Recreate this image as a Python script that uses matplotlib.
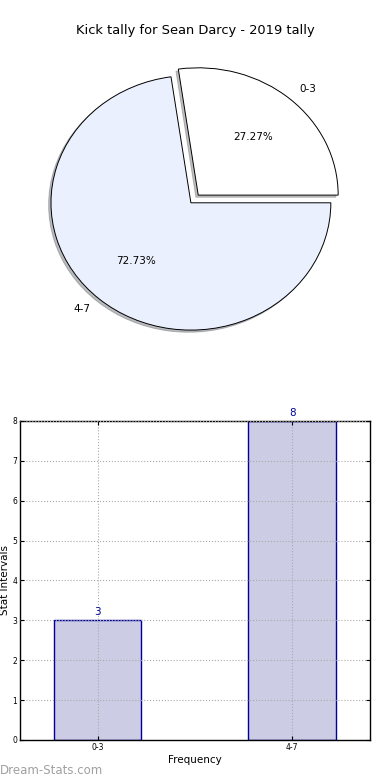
import matplotlib
matplotlib.use("Agg")
import matplotlib.pyplot as plt

categories = ["0-3", "4-7"]
counts = [3, 8]
pie_colors = ["#FFFFFF", "#EAF0FD"]
title = "Kick tally for Sean Darcy - 2019 tally"

fig = plt.figure(figsize=(3.9, 7.8), dpi=100)

ax1 = fig.add_axes([0.041, 0.536, 0.897, 0.408])
wedges, texts, autotexts = ax1.pie(
    counts, labels=categories, colors=pie_colors, explode=[0.08, 0],
    autopct="%1.2f%%", shadow=dict(ox=-0.012, oy=-0.012, shade=0.5), startangle=0,
    wedgeprops=dict(edgecolor="black", linewidth=0.7),
    textprops=dict(fontsize=7.5))
ax1.set_aspect("auto")
fig.text(0.5, 0.961, title, ha="center", va="center", fontsize=9.4)

ax2 = fig.add_axes([0.0513, 0.0513, 0.897, 0.409])
x = list(range(len(categories)))
bars = ax2.bar(x, counts, width=0.45, color="#CCCCE5", edgecolor="#000099", linewidth=1.0, zorder=2)
for xi, v in zip(x, counts):
    ax2.text(xi, v + 0.08, str(v), ha="center", va="bottom", color="#000099", fontsize=7.5)
ax2.set_xlim(-0.4, 1.4)
ax2.set_ylim(0, 8)
ax2.set_xticks(x)
ax2.set_xticklabels(categories)
ax2.set_yticks(range(0, 9))
ax2.tick_params(axis="both", labelsize=5.5, direction="in", top=True, right=True, length=3, pad=2)
ax2.grid(True, linestyle=":", color="#AAAAAA", linewidth=0.8, zorder=3)
ax2.set_axisbelow(False)
ax2.set_xlabel("Frequency", fontsize=7.5, labelpad=2)
ax2.set_ylabel("Stat Intervals", fontsize=7.5, labelpad=2)
for s in ax2.spines.values():
    s.set_linewidth(1.0)
fig.text(0.0, 0.012, "Dream-Stats.com", color="#A0A0A0", fontsize=8.5, ha="left", va="center")

fig.savefig("out.png", dpi=100)
